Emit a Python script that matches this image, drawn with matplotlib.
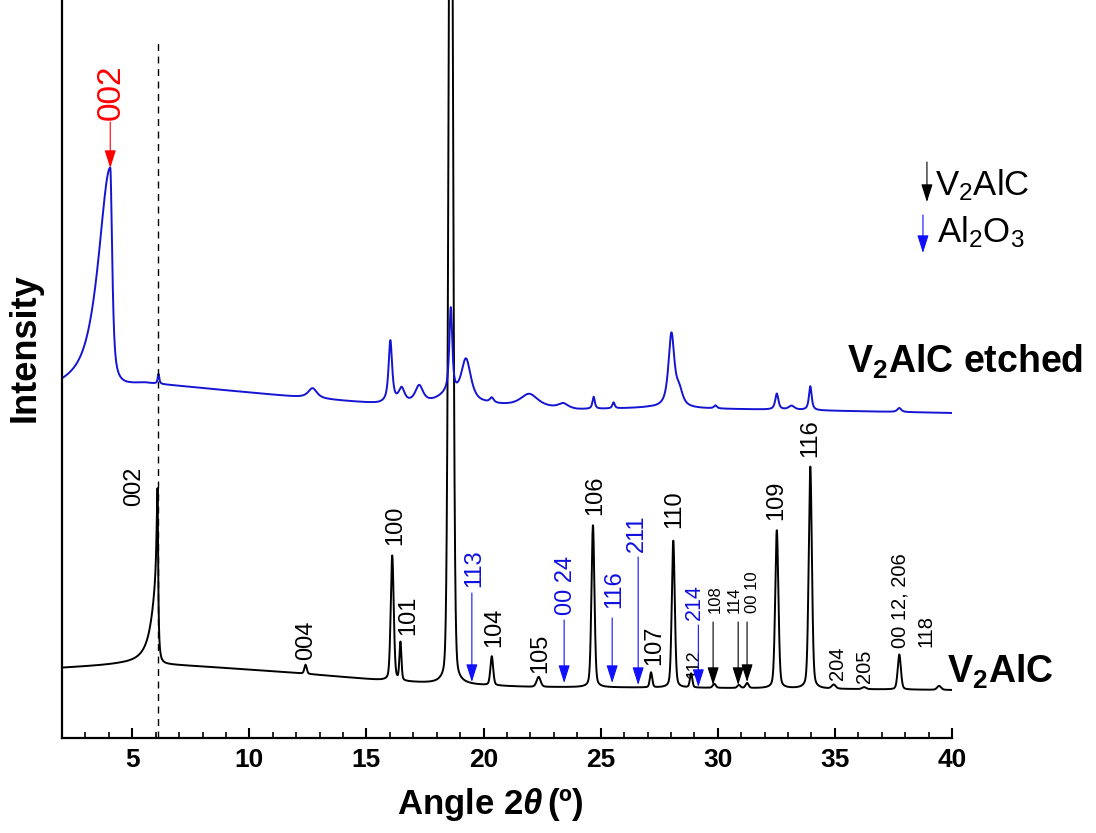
import numpy as np
import matplotlib.pyplot as plt

plt.rcParams['font.family'] = ['Liberation Sans', 'DejaVu Sans']
plt.rcParams['mathtext.fontset'] = 'custom'
plt.rcParams['mathtext.rm'] = 'Liberation Sans'
plt.rcParams['mathtext.it'] = 'Liberation Sans:italic:bold'
plt.rcParams['mathtext.bf'] = 'Liberation Sans:bold'

# ---- V2AlC pattern: background knots and peaks (2theta, height, fwhm left/right, lorentz share)
black_bg_x = [2, 4.5, 6.3, 9, 12, 15.5, 18, 22, 30, 40]
black_bg_y = [70, 73, 74, 70, 65, 58, 54, 51, 50, 48]
black_pos = [6.08, 6.08, 12.4, 16.1, 16.45, 18.6, 20.35, 22.35, 24.67, 27.15,
             28.1, 28.86, 29.85, 30.9, 31.25, 32.52, 33.95, 34.95, 36.25, 37.75, 39.45]
black_height = [100, 76, 9, 125, 38, 1100, 29, 10, 162, 15,
                147, 14, 4, 3, 5, 158, 222, 4, 2, 35, 4]
black_wl = [0.1, 0.6, 0.12, 0.15, 0.1, 0.2, 0.14, 0.2, 0.15, 0.12,
            0.15, 0.12, 0.15, 0.15, 0.15, 0.16, 0.16, 0.2, 0.2, 0.16, 0.2]
black_wr = [0.05, 0.08, 0.12, 0.15, 0.1, 0.2, 0.14, 0.2, 0.15, 0.12,
            0.15, 0.12, 0.15, 0.15, 0.15, 0.16, 0.16, 0.2, 0.2, 0.16, 0.2]
black_eta = [1, 1, 0.3, 0.3, 0.3, 0.15, 0.3, 0.3, 0.3, 0.3,
             0.3, 0.3, 0.3, 0.3, 0.3, 0.3, 0.3, 0.3, 0.3, 0.3, 0.3]

# ---- V2AlC etched pattern
blue_bg_x = [2, 5.5, 7, 12, 15.5, 20, 24, 27, 33, 40]
blue_bg_y = [346, 355, 352, 341, 334, 333, 328, 330, 328, 325]
blue_pos = [4.06, 6.12, 12.7, 16.02, 16.5, 17.25, 18.45, 18.6, 19.25, 20.35, 21.95,
            23.4, 24.7, 25.55, 28.02, 28.35, 29.9, 32.52, 33.15, 33.95, 37.75]
blue_height = [219, 10, 10, 62, 14, 17, 8, 85, 43, 5, 13,
               5, 12, 6, 73, 15, 3, 16, 4, 24, 4]
blue_wl = [1.2, 0.08, 0.45, 0.18, 0.3, 0.4, 1.0, 0.15, 0.5, 0.2, 0.9,
           0.5, 0.12, 0.12, 0.3, 0.35, 0.15, 0.16, 0.3, 0.14, 0.2]
blue_wr = [0.2, 0.08, 0.45, 0.18, 0.3, 0.4, 1.0, 0.15, 0.5, 0.2, 0.9,
           0.5, 0.12, 0.12, 0.3, 0.35, 0.15, 0.16, 0.3, 0.14, 0.2]
blue_eta = [0.8] * len(blue_pos)

# ---- peak labels: (text, 2theta, label bottom, fontsize)
black_labels = [('002', 5.1, 232, 17), ('004', 12.43, 78, 17), ('100', 16.25, 193, 17),
                ('101', 16.78, 103, 17), ('104', 20.45, 91, 17), ('105', 22.42, 65, 17),
                ('106', 24.76, 223, 17), ('107', 27.28, 73, 17), ('110', 28.13, 210, 17),
                ('112', 29.0, 60, 13), ('108', 29.88, 125, 12), ('114', 30.7, 125, 12),
                ('00 10', 31.47, 125, 12), ('109', 32.5, 218, 17), ('116', 33.94, 281, 17),
                ('204', 35.13, 58, 14.5), ('205', 36.28, 55, 14.5), ('00 12, 206', 37.78, 90, 14.5),
                ('118', 38.9, 91, 14.5)]
black_arrows = [(29.8, 116, 53), (30.87, 116, 53), (31.25, 116, 56)]
blue_labels = [('113', 19.6, 151, 17), ('00 24', 23.52, 123, 17), ('116', 25.6, 130, 17),
               ('211', 26.55, 186, 17), ('214', 29.02, 118, 15.5)]
blue_arrows = [(19.5, 145, 56), (23.44, 118, 55), (25.49, 120, 55), (26.6, 181, 53), (29.17, 113, 51)]


def pattern(x, pos, height, wl, wr, eta):
    y = np.zeros_like(x)
    for p, a, l, r, e in zip(pos, height, wl, wr, eta):
        w = np.where(x < p, l, r) / 2
        d = (x - p) / w
        y += a * (e / (1 + d ** 2) + (1 - e) * np.exp(-np.log(2) * d ** 2))
    return y


x = np.linspace(2, 40, 7601)
y_black = np.interp(x, black_bg_x, black_bg_y) + pattern(x, black_pos, black_height,
                                                         black_wl, black_wr, black_eta)
y_blue = np.interp(x, blue_bg_x, blue_bg_y) + pattern(x, blue_pos, blue_height,
                                                      blue_wl, blue_wr, blue_eta)

fig = plt.figure(figsize=(10.96, 8.33), dpi=100)
ax = fig.add_axes([62 / 1096, 95 / 833, 890 / 1096, 738 / 833])

ax.plot(x, y_black, color='black', lw=1.4)
ax.plot(x, y_blue, color='#1414d2', lw=1.4)
ax.plot([6.1, 6.1], [0, 698], color='black', lw=1, ls=(0, (5, 4)))

ax.set_xlim(2, 40)
ax.set_ylim(0, 738)
ax.set_yticks([])
ax.set_xticks(range(5, 41, 5))
ax.set_xticks(range(3, 40), minor=True)
for s in ['top', 'right']:
    ax.spines[s].set_visible(False)
for s in ['left', 'bottom']:
    ax.spines[s].set_linewidth(1.6)
ax.tick_params(axis='x', which='major', direction='in', length=7, width=1.5, pad=7)
ax.tick_params(axis='x', which='minor', direction='in', length=4, width=1.2)
for lab in ax.get_xticklabels():
    lab.set_fontfamily(['Liberation Sans Narrow', 'Liberation Sans'])
    lab.set_fontweight('bold')
    lab.set_fontsize(19)

fig.text(0.447, 0.034, r'Angle 2$\theta\,$(º)', ha='center', va='center',
         fontsize=25, fontweight='bold', family=['Liberation Sans Narrow', 'Liberation Sans'])
fig.text(0.023, 0.583, 'Intensity', rotation=90, ha='center', va='center',
         fontsize=26, fontweight='bold')


def arrow(x0, top, bottom, color):
    ax.annotate('', xy=(x0, bottom), xytext=(x0, top), annotation_clip=False,
                arrowprops=dict(arrowstyle='-|>,head_length=1.1,head_width=0.35', color=color,
                                lw=0.8, shrinkA=0, shrinkB=0, mutation_scale=10))


for txt, xp, yb, fs in black_labels:
    ax.text(xp, yb, txt, rotation=90, ha='center', va='bottom', fontsize=fs, color='black')
for xp, top, bottom in black_arrows:
    arrow(xp, top, bottom, 'black')
for txt, xp, yb, fs in blue_labels:
    ax.text(xp, yb, txt, rotation=90, ha='center', va='bottom', fontsize=fs, color='#1010e0')
for xp, top, bottom in blue_arrows:
    arrow(xp, top, bottom, '#1010ff')

# red 002 of the etched sample
ax.text(4.12, 618, '002', rotation=90, ha='center', va='bottom', fontsize=24, color='red')
arrow(4.06, 616, 570, 'red')

# sample names
ax.text(35.52, 365, r'V$_\mathbf{2}$AlC etched', fontsize=27, fontweight='bold', va='baseline')
ax.text(39.78, 55, r'V$_\mathbf{2}$AlC', fontsize=27, fontweight='bold', va='baseline')

# key
arrow(38.93, 576, 536, 'black')
ax.text(39.27, 543, r'V$_2$AlC', fontsize=25, va='baseline')
arrow(38.76, 523, 485, '#1010ff')
ax.text(39.36, 496, r'Al$_2$O$_3$', fontsize=25, va='baseline')

fig.savefig('out.png', dpi=100)
